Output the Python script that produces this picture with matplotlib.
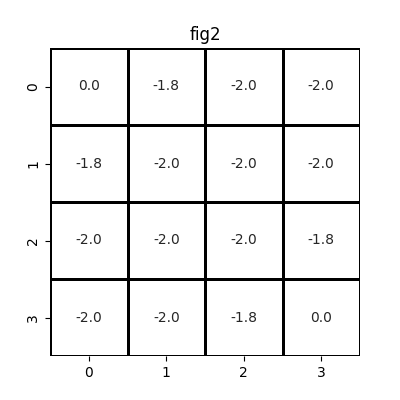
import matplotlib
matplotlib.use("Agg")
import matplotlib.pyplot as plt
import seaborn as sns
import numpy as np
from matplotlib.colors import ListedColormap

rows = ["0", "1", "2", "3"]
cols = ["0", "1", "2", "3"]
row0 = [0.0, -1.8, -2.0, -2.0]
row1 = [-1.8, -2.0, -2.0, -2.0]
row2 = [-2.0, -2.0, -2.0, -1.8]
row3 = [-2.0, -2.0, -1.8, 0.0]
values = np.array([row0, row1, row2, row3])

fig, ax = plt.subplots(figsize=(4, 4), dpi=100)
sns.heatmap(values, annot=True, fmt=".1f", cmap=ListedColormap(["white"]),
            cbar=False, linewidths=2, linecolor="black", ax=ax,
            xticklabels=cols, yticklabels=rows, annot_kws={"fontsize": 10})
ax.set_yticklabels(rows, rotation=90, va="center")
ax.set_title("fig2")
fig.savefig("out.png")
